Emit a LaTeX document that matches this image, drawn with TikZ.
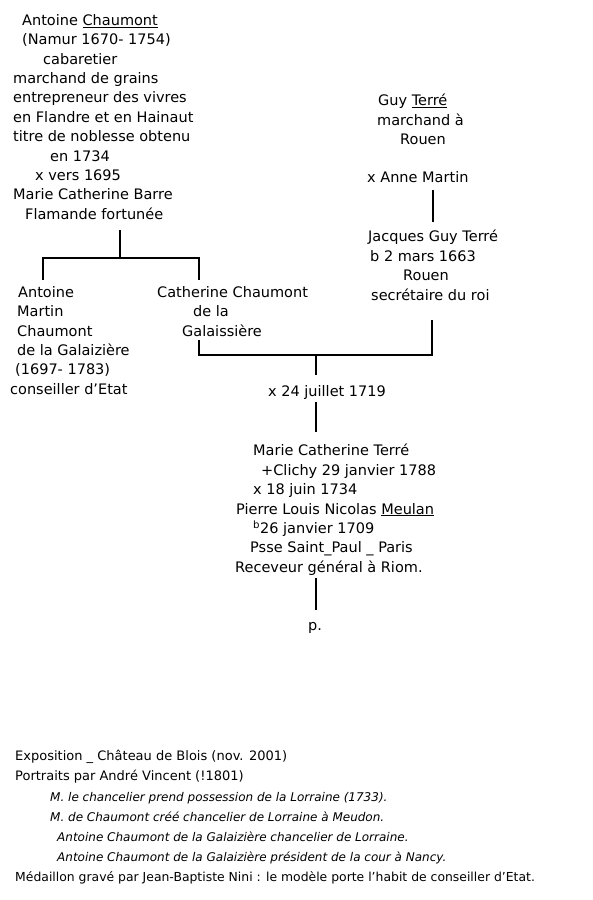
\documentclass[tikz,border=0pt]{standalone}
\usepackage{fontspec}
\setmainfont{DejaVu Sans}
\begin{document}
\begin{tikzpicture}[x=1pt,y=-1pt,
  txt/.style={inner sep=0pt, anchor=north west, align=left, font=\fontsize{14.5}{19.4}\selectfont},
  smalltxt/.style={inner sep=0pt, anchor=north west, align=left, font=\fontsize{13}{20}\selectfont},
  ln/.style={line width=1.2pt}]
\useasboundingbox (0,0) rectangle (592,900);

% top-left couple
\node[txt] (antoine) at (13,14) {\hspace*{9pt}Antoine \underline{Chaumont}\\
\hspace*{9pt}(Namur 1670- 1754)\\
\hspace*{30pt}cabaretier\\
marchand de grains\\
entrepreneur des vivres\\
en Flandre et en Hainaut\\
titre de noblesse obtenu\\
\hspace*{37pt}en 1734\\
\hspace*{22pt}x vers 1695\\
Marie Catherine Barre\\
\hspace*{12pt}Flamande fortunée};

% top-right
\node[txt] (guy) at (377,94) {\hspace*{1pt}Guy \underline{Terré}\\
marchand à\\
\hspace*{23pt}Rouen};
\node[txt] (anne) at (367,171) {x Anne Martin};
\node[txt] (jacques) at (368,230) {Jacques Guy Terré\\
\hspace*{2pt}b 2 mars 1663\\
\hspace*{35pt}Rouen\\
\hspace*{3pt}secrétaire du roi};

% children
\node[txt] (amc) at (10,286) {\hspace*{8pt}Antoine\\
\hspace*{7pt}Martin\\
\hspace*{7pt}Chaumont\\
\hspace*{7pt}de la Galaizière\\
\hspace*{5pt}(1697- 1783)\\
conseiller d'Etat};
\node[txt] (cath) at (157,286) {Catherine Chaumont\\
\hspace*{36pt}de la\\
\hspace*{25pt}Galaissière};

\node[txt] (mar) at (268,385) {x 24 juillet 1719};

\node[txt] (marie) at (235,444) {\hspace*{18pt}Marie Catherine Terré\\
\hspace*{26pt}+Clichy 29 janvier 1788\\
\hspace*{18pt}x 18 juin 1734\\
\hspace*{1pt}Pierre Louis Nicolas \underline{Meulan}\\
\hspace*{18pt}\textsuperscript{b}26 janvier 1709\\
\hspace*{15pt}Psse Saint\_Paul \_ Paris\\
Receveur général à Riom.};

\node[txt] (p) at (308,622) {p.};

% bottom notes
\node[smalltxt] (expo) at (15,750) {Exposition \_ Château de Blois (nov. 2001)\\
Portraits par André Vincent (!1801)};
\node[smalltxt, font=\itshape\fontsize{12}{20}\selectfont] (portraits) at (50,792) {M. le chancelier prend possession de la Lorraine (1733).\\
M. de Chaumont créé chancelier de Lorraine à Meudon.\\
\hspace*{7pt}Antoine Chaumont de la Galaizière chancelier de Lorraine.\\
\hspace*{7pt}Antoine Chaumont de la Galaizière président de la cour à Nancy.};
\node[smalltxt, font=\fontsize{12.4}{20}\selectfont] (medaillon) at (15,871) {Médaillon gravé par Jean-Baptiste Nini : le modèle porte l'habit de conseiller d'Etat.};

% connectors
\coordinate (a1) at (120,230);
\coordinate (a2) at (120,258);
\coordinate (bl) at (43,258);
\coordinate (br) at (199,258);
\coordinate (bl2) at (43,280);
\coordinate (br2) at (199,280);
\draw[ln] (a1) -- (a2);
\draw[ln] (bl2) -- (bl) -- (br) -- (br2);

\coordinate (an1) at (433,190);
\coordinate (an2) at (433,222);
\draw[ln] (an1) -- (an2);

\coordinate (c1) at (199,340);
\coordinate (c2) at (199,355);
\coordinate (j1) at (432,320);
\coordinate (j2) at (432,355);
\coordinate (m1) at (316,355);
\coordinate (m2) at (316,375);
\draw[ln] (c1) -- (c2) -- (j2) -- (j1);
\draw[ln] (m1) -- (m2);
\coordinate (m3) at (316,402);
\coordinate (m4) at (316,432);
\draw[ln] (m3) -- (m4);
\coordinate (d1) at (316,578);
\coordinate (d2) at (316,610);
\draw[ln] (d1) -- (d2);
\end{tikzpicture}
\end{document}
